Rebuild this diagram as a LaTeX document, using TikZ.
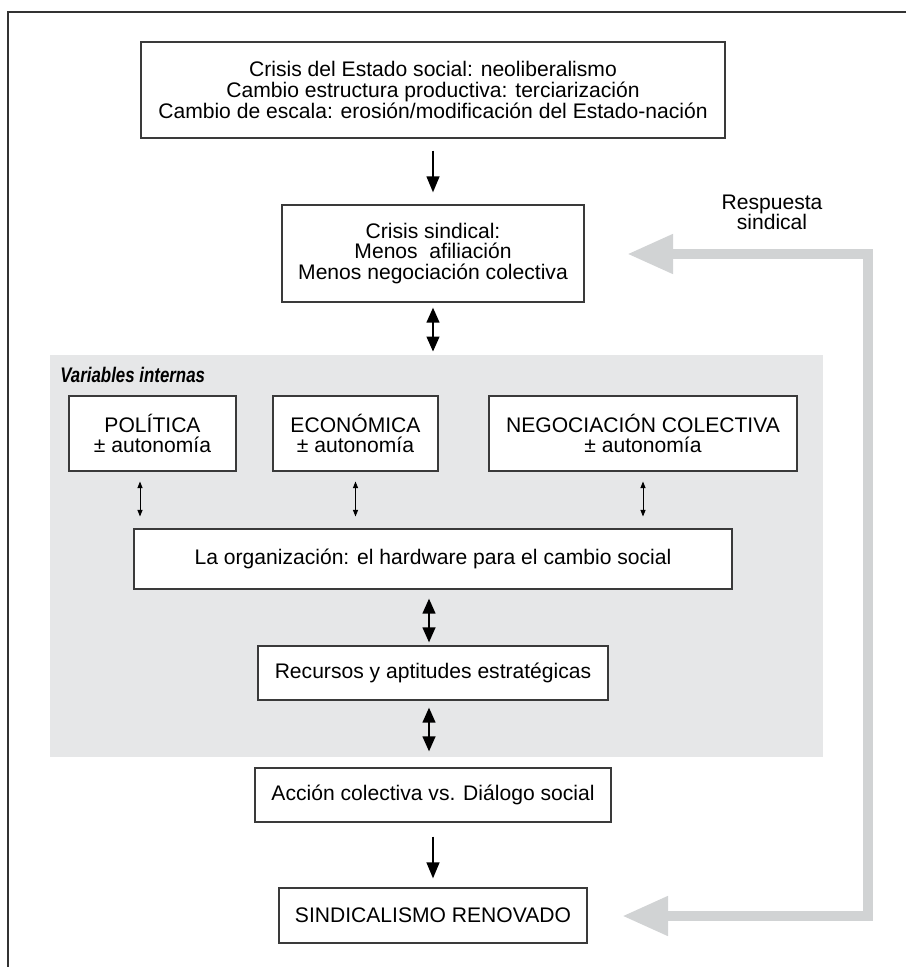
\documentclass[tikz,border=0pt]{standalone}
\usepackage{fontspec}
\setmainfont{Liberation Sans}
\newfontfamily\condfont[FakeStretch=0.8]{Liberation Sans}
\usepackage{xcolor}
\usepackage{tikz}
\usetikzlibrary{positioning, arrows.meta}
\definecolor{panelgray}{HTML}{E6E7E8}
\definecolor{loopgray}{HTML}{D1D3D4}
\definecolor{boxline}{HTML}{3A3A3A}

\tikzset{
    box/.style={draw=boxline, line width=0.6pt, rectangle, fill=white, align=center, inner sep=0pt,
        font=\fontsize{12}{11.7}\selectfont},
    bigarrow/.style={line width=0.05cm, -{Triangle[length=0.32cm, width=0.25cm]}},
    dblarrow/.style={line width=0.05cm, {Triangle[length=0.3cm, width=0.25cm]}-{Triangle[length=0.3cm, width=0.25cm]}},
    smallarrow/.style={line width=0.5pt, {Triangle[length=0.13cm, width=0.1cm]}-{Triangle[length=0.13cm, width=0.1cm]}},
    feedback/.style={draw=loopgray, line width=0.21cm, line join=miter,
        {Triangle[length=0.92cm, width=0.74cm]}-{Triangle[length=0.92cm, width=0.74cm]}}
}

\begin{document}
\begin{tikzpicture}[>=Triangle]
        \useasboundingbox (0,0) rectangle (18.12,-19.34);
        % frame, open on the right and at the bottom
        \draw [black!80, line width=0.7pt] (18.12,-0.24) -- (0.16,-0.24) -- (0.16,-19.34);

        \node [box, minimum width=11.68cm, minimum height=1.92cm] (crisis) at (8.66,-1.80)
            {Crisis del Estado social: neoliberalismo\\Cambio estructura productiva: terciarización\\Cambio de escala: erosión/modificación del Estado-nación};
        \node [box, minimum width=6.04cm, minimum height=1.94cm] (sindical) at (8.66,-5.07)
            {Crisis sindical:\\Menos~~afiliación\\Menos negociación colectiva};

        % variables internas
        \node [fill=panelgray, minimum width=15.46cm, minimum height=8.04cm, inner sep=0pt] (panel) at (8.73,-11.12) {};
        \node [anchor=west, inner sep=0pt, font=\fontsize{12}{12}\condfont\bfseries\itshape] (varint) at (1.20,-7.50) {Variables internas};

        \node [box, minimum width=3.34cm, minimum height=1.50cm] (politica) at (3.05,-8.67) {POLÍTICA\\± autonomía};
        \node [box, minimum width=3.30cm, minimum height=1.50cm] (economica) at (7.11,-8.67) {ECONÓMICA\\± autonomía};
        \node [box, minimum width=6.16cm, minimum height=1.50cm] (negociacion) at (12.86,-8.67) {NEGOCIACIÓN COLECTIVA\\± autonomía};
        \node [box, minimum width=11.96cm, minimum height=1.20cm] (org) at (8.66,-11.18) {La organización: el hardware para el cambio social};
        \node [box, minimum width=7.00cm, minimum height=1.08cm] (recursos) at (8.66,-13.46) {Recursos y aptitudes estratégicas};

        \node [box, minimum width=7.12cm, minimum height=1.08cm] (accion) at (8.66,-15.90) {Acción colectiva vs. Diálogo social};
        \node [box, minimum width=6.16cm, minimum height=1.10cm] (renovado) at (8.66,-18.31) {SINDICALISMO RENOVADO};

        \node [align=center, inner sep=0pt, font=\fontsize{12}{11.7}\selectfont] (respuesta) at (15.44,-4.25) {Respuesta\\sindical};

        % arrows
        \draw [bigarrow, shorten <=0.24cm, shorten >=0.24cm] (crisis) -- (sindical);
        \draw [dblarrow, shorten <=0.1cm, shorten >=0.06cm] (sindical.south) -- (sindical.south |- panel.north);
        \draw [smallarrow, shorten <=0.2cm, shorten >=0.24cm] ([xshift=-0.25cm]politica.south) -- ([xshift=-0.25cm]politica.south |- org.north);
        \draw [smallarrow, shorten <=0.2cm, shorten >=0.24cm] (economica.south) -- (economica.south |- org.north);
        \draw [smallarrow, shorten <=0.2cm, shorten >=0.24cm] (negociacion.south) -- (negociacion.south |- org.north);
        \draw [dblarrow, shorten <=0.18cm, shorten >=0.06cm] ([xshift=-0.08cm]org.south) -- ([xshift=-0.08cm]recursos.north);
        \draw [dblarrow, shorten <=0.14cm, shorten >=0.32cm] ([xshift=-0.08cm]recursos.south) -- ([xshift=-0.08cm]accion.north);
        \draw [bigarrow, shorten <=0.28cm, shorten >=0.18cm] (accion) -- (renovado);

        % respuesta sindical
        \coordinate (fbtop) at (12.54,-5.08);
        \coordinate (fbright) at (17.36,-11.00);
        \coordinate (fbbot) at (12.44,-18.32);
        \draw [feedback] (fbtop) -| (fbright) |- (fbbot);
    \end{tikzpicture}
\end{document}
